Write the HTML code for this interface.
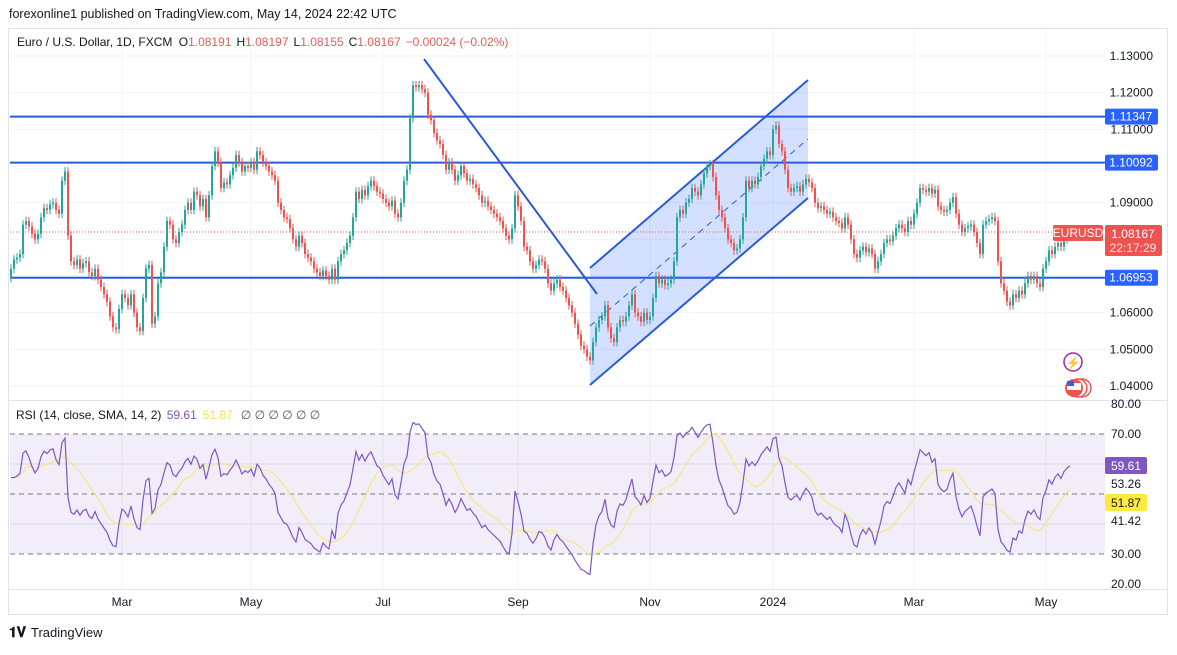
<!DOCTYPE html>
<html><head><meta charset="utf-8">
<style>
body{margin:0;background:#fff;width:1177px;height:650px;overflow:hidden;font-family:"Liberation Sans",sans-serif;}
svg text{font-family:"Liberation Sans",sans-serif;}
</style></head>
<body>
<svg id="c" width="1177" height="650" viewBox="0 0 1177 650">
<text x="9" y="18" font-size="12.5" fill="#131722">forexonline1 published on TradingView.com, May 14, 2024 22:42 UTC</text>
<rect x="8.5" y="28.5" width="1159" height="586" fill="none" stroke="#e0e3eb"/>
<g id="grid"></g>
<rect x="10" y="434" width="1095" height="120" fill="#7e57c2" fill-opacity="0.1"/>
<g id="rsiGrid"></g>
<g id="hlines"></g>
<polygon points="590,268 808,80 808,198 590,385" fill="#2962ff" fill-opacity="0.2"/>
<line x1="590" y1="268" x2="808" y2="80" stroke="#2a5bd7" stroke-width="2"/>
<line x1="590" y1="385" x2="808" y2="198" stroke="#2a5bd7" stroke-width="2"/>
<line x1="590" y1="326" x2="808" y2="139" stroke="#2a5bd7" stroke-width="1" stroke-dasharray="6,5"/>
<line x1="424" y1="59" x2="597" y2="294" stroke="#2a5bd7" stroke-width="2"/>
<line x1="10" y1="232" x2="1105" y2="232" stroke="#ef5350" stroke-width="1" stroke-dasharray="1,2"/>
<g id="candles"></g>
<g id="rsi"></g>
<line x1="8" y1="400.5" x2="1167" y2="400.5" stroke="#e0e3eb"/>
<line x1="8" y1="589.5" x2="1167" y2="589.5" stroke="#e0e3eb"/>
<g id="axis"></g>
<g id="taxis"></g>
<text x="17" y="46" font-size="12" fill="#131722">Euro / U.S. Dollar, 1D, FXCM  <tspan dx="3">O</tspan><tspan fill="#e0605a">1.08191</tspan><tspan dx="5">H</tspan><tspan fill="#e0605a">1.08197</tspan><tspan dx="5">L</tspan><tspan fill="#e0605a">1.08155</tspan><tspan dx="5">C</tspan><tspan fill="#e0605a">1.08167</tspan><tspan dx="5" fill="#e0605a">−0.00024 (−0.02%)</tspan></text>
<text x="16" y="419" font-size="12" fill="#131722">RSI (14, close, SMA, 14, 2) <tspan dx="2" fill="#7e57c2">59.61</tspan><tspan dx="6" fill="#f0e050">51.87</tspan><tspan dx="8" fill="#555">∅  ∅  ∅  ∅  ∅  ∅</tspan></text>
<g><circle cx="1073" cy="362" r="9" fill="#fff" stroke="#9c27b0" stroke-width="1.5"/><text x="1073" y="367" font-size="12" text-anchor="middle" fill="#9c27b0">⚡</text></g>
<g><circle cx="1082" cy="388" r="9" fill="#fff" stroke="#ef5350" stroke-width="1.5"/><circle cx="1078" cy="388" r="9" fill="#fff" stroke="#ef5350" stroke-width="1.5"/><circle cx="1074" cy="388" r="9" fill="#ef5350"/><rect x="1067" y="383" width="14" height="7" fill="#fff"/><rect x="1067" y="381" width="7" height="5" fill="#2962ff"/></g>
<g><text x="9" y="637" font-size="14" font-weight="bold" fill="#131722">𝟏𝐕</text><text x="31" y="637" font-size="13" fill="#131722">TradingView</text></g>
</svg>
<script>
const closes=[720,745,750,760,840,850,835,815,800,815,
860,885,880,895,900,880,870,960,985,810,
740,730,745,720,735,740,710,700,720,690,
670,650,630,590,560,555,610,650,640,620,
650,600,560,550,640,720,730,570,590,680,
710,780,850,840,800,790,820,840,880,900,
880,930,920,890,910,860,920,1000,1040,1010,
940,955,950,975,995,1030,1010,985,1000,995,
1010,990,1040,1030,1010,1000,985,975,960,900,
880,860,855,830,800,780,810,790,760,750,
740,720,710,700,715,700,690,720,690,740,
760,770,790,810,860,930,910,935,920,945,
960,945,930,925,910,900,890,905,870,860,
900,960,990,1130,1220,1215,1220,1210,1200,1140,
1125,1090,1070,1060,1030,990,1010,990,960,975,
1000,980,960,965,950,940,920,900,905,890,
880,870,860,850,830,810,800,830,920,890,
850,780,770,740,720,730,745,740,720,680,
660,680,690,670,660,640,620,600,570,540,
510,500,480,470,520,560,580,590,620,560,
530,520,560,580,575,590,620,650,600,590,
575,600,580,590,640,700,680,690,675,680,
690,740,860,880,870,900,910,940,930,920,
950,980,1000,1005,970,920,880,860,830,800,
790,770,775,800,860,960,940,960,950,970,
1000,1020,1040,1030,1100,1110,1060,1040,990,940,
930,940,945,930,950,965,955,940,900,885,
890,880,870,875,860,850,845,830,860,840,
800,760,750,770,780,765,775,760,720,740,
760,790,800,795,810,830,840,830,820,850,
840,870,900,940,935,930,940,925,935,890,
880,875,880,900,915,870,840,820,830,835,
840,820,790,760,840,850,855,860,850,740,
680,660,630,620,650,640,660,650,680,700,
690,700,680,670,720,740,770,760,780,790,780,800,810,817];
const priceTicks=["1.13000","1.12000","1.11000","1.10000","1.09000","1.08000","1.07000","1.06000","1.05000","1.04000"];
const levels=[1.11347,1.10092,1.06953];
const levelLabels=["1.11347","1.10092","1.06953"];
const monthLabels=["Mar","May","Jul","Sep","Nov","2024","Mar","May"];
const monthIdx=[37,80,124,169,213,254,301,345];
const rsiTicks=[80,70,30,20];
const NS="http://www.w3.org/2000/svg";
function el(t,a,p){const e=document.createElementNS(NS,t);for(const k in a)e.setAttribute(k,a[k]);p.appendChild(e);return e;}
const X0=11,DX=3.0;
const xi=i=>X0+i*DX;
const yP=p=>56+(1.13-p)*3666.7;
const yR=r=>434+(70-r)*3;
const toP=v=>1+v/10000;
const grid=document.getElementById('grid');
for(let k=0;k<10;k++){const p=1.13-k*0.01;const l=el('line',{x1:10,x2:1105,y1:yP(p),y2:yP(p),stroke:'#f0f3fa'},grid);}
for(const r of [60,40]){const l=el('line',{x1:10,x2:1105,y1:yR(r),y2:yR(r),stroke:'#e6e2f2'},grid);}
const taxis=document.getElementById('taxis');
monthIdx.forEach((m,k)=>{const x=xi(m);const l=el('line',{x1:x,x2:x,y1:29,y2:589,stroke:'#f0f3fa'},grid);
const t=el('text',{x:x,y:606,'font-size':12,'text-anchor':'middle',fill:'#131722'},taxis);t.textContent=monthLabels[k];});
const rg=document.getElementById('rsiGrid');
for(const r of [70,50,30]){const l=el('line',{x1:10,x2:1105,y1:yR(r),y2:yR(r),stroke:'#787b86','stroke-dasharray':'5,4'},rg);}
const hl=document.getElementById('hlines');
levels.forEach(p=>{const l=el('line',{x1:10,x2:1105,y1:yP(p),y2:yP(p),stroke:'#2a5bd7','stroke-width':2},hl);});
const cg=document.getElementById('candles');
for(let i=0;i<closes.length;i++){
 const c=closes[i],o=i?closes[i-1]:c-25;const up=c>=o;const col=up?'#26a69a':'#ef5350';
 const hi=Math.max(o,c)+12,lo=Math.min(o,c)-12;const x=xi(i);
 const g=el('g',{},cg);
 el('line',{x1:x,x2:x,y1:yP(toP(hi)),y2:yP(toP(lo)),stroke:col,'stroke-width':1},g);
 const y1=yP(toP(Math.max(o,c))),y2=yP(toP(Math.min(o,c)));
 el('rect',{x:x-1,y:y1,width:2,height:Math.max(1,y2-y1),fill:col},g);
}
// RSI 14 (Wilder) + SMA 14, seeded with neutral averages
const rsi=[];let ag=14,al=12;
for(let i=1;i<closes.length;i++){const d=closes[i]-closes[i-1];const g=Math.max(d,0),l=Math.max(-d,0);
 ag=(ag*13+g)/14;al=(al*13+l)/14;const r=al===0?100:100-100/(1+ag/al);rsi[i]=50+(r-50)*0.78;}
rsi[0]=rsi[1];
const sma=rsi.map((v,i)=>{const s=rsi.slice(Math.max(0,i-13),i+1);return s.reduce((a,b)=>a+b,0)/s.length;});
const rp=document.getElementById('rsi');
const clampR=v=>Math.max(18,Math.min(82,v));
const sl=el('polyline',{points:sma.map((v,i)=>xi(i)+','+yR(clampR(v))).join(' '),fill:'none',stroke:'#f5e88a','stroke-width':1.3},rp);

const rl=el('polyline',{points:rsi.map((v,i)=>xi(i)+','+yR(clampR(v))).join(' '),fill:'none',stroke:'#7e57c2','stroke-width':1.2},rp);

const ax=document.getElementById('axis');
priceTicks.forEach((t,k)=>{const e=el('text',{x:1153,y:yP(1.13-k*0.01)+4,'font-size':12,'text-anchor':'end',fill:'#131722'},ax);e.textContent=t;});
rsiTicks.forEach(r=>{const e=el('text',{x:1141,y:yR(r)+4,'font-size':12,'text-anchor':'end',fill:'#131722'},ax);e.textContent=r.toFixed(2);});
[["53.26",484],["41.42",521]].forEach(a=>{const e=el('text',{x:1141,y:a[1]+4,'font-size':12,'text-anchor':'end',fill:'#131722'},ax);e.textContent=a[0];});
levels.forEach((p,k)=>{const y=yP(p);const g=el('g',{},ax);
 el('rect',{x:1105,y:y-8,width:53,height:16,rx:2,fill:'#2962ff'},g);
 const t=el('text',{x:1131,y:y+4,'font-size':12,'text-anchor':'middle',fill:'#fff'},g);t.textContent=levelLabels[k];});
const lp=el('g',{},ax);
el('rect',{x:1105,y:225,width:57,height:31,rx:2,fill:'#ef5350'},lp);
let t=el('text',{x:1133,y:238,'font-size':12,'text-anchor':'middle',fill:'#fff'},lp);t.textContent='1.08167';
t=el('text',{x:1133,y:252,'font-size':12,'text-anchor':'middle',fill:'#fde0de'},lp);t.textContent='22:17:29';
const sy=el('g',{},ax);
el('rect',{x:1053,y:225,width:50,height:16,rx:2,fill:'#ef5350'},sy);
t=el('text',{x:1078,y:237,'font-size':12,'text-anchor':'middle',fill:'#fff'},sy);t.textContent='EURUSD';
const rb=el('g',{},ax);
el('rect',{x:1105,y:457,width:42,height:17,rx:2,fill:'#7e57c2'},rb);
t=el('text',{x:1126,y:470,'font-size':12,'text-anchor':'middle',fill:'#fff'},rb);t.textContent='59.61';
const sb=el('g',{},ax);
el('rect',{x:1105,y:494,width:42,height:17,rx:2,fill:'#ffeb3b'},sb);
t=el('text',{x:1126,y:507,'font-size':12,'text-anchor':'middle',fill:'#131722'},sb);t.textContent='51.87';
</script>
</body></html>
